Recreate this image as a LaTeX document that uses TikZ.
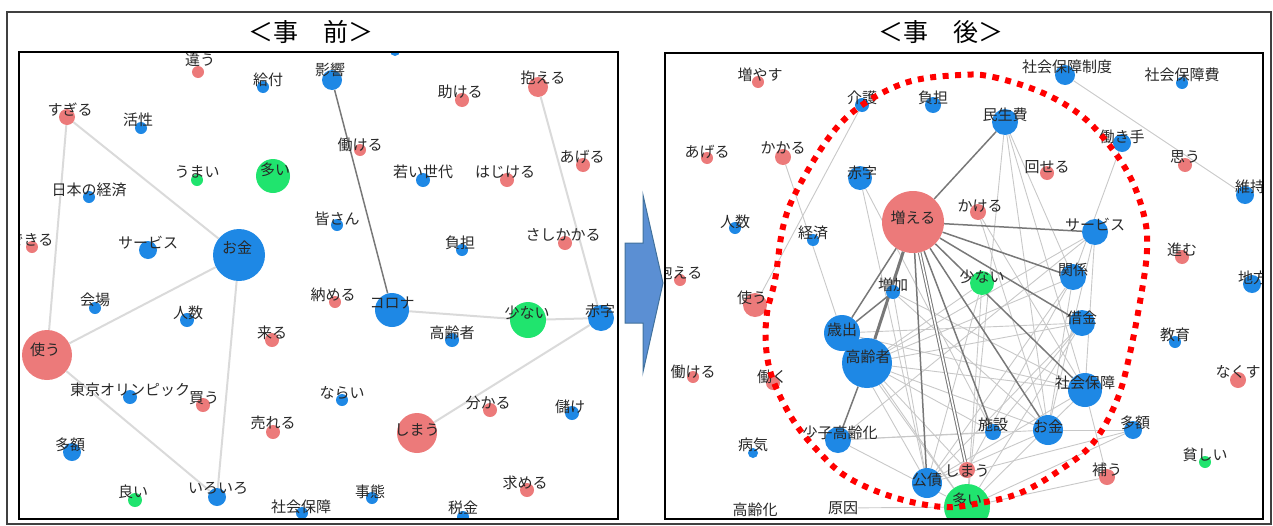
\documentclass[tikz,border=0pt]{standalone}
\usepackage{fontspec}
\newfontfamily\jp{Noto Sans CJK JP}
\usetikzlibrary{backgrounds}
\definecolor{cR}{RGB}{236,122,122}
\definecolor{cB}{RGB}{30,136,229}
\definecolor{cG}{RGB}{32,228,110}
\definecolor{cLE}{RGB}{218,218,218}
\definecolor{cME}{RGB}{200,200,200}
\definecolor{cDE}{RGB}{120,120,120}
\definecolor{cTx}{RGB}{40,40,40}
\definecolor{arrF}{RGB}{91,143,211}
\definecolor{arrD}{RGB}{65,113,156}
\tikzset{
 rn/.style={circle,fill=cR,inner sep=0pt,minimum size=#1pt},
 bn/.style={circle,fill=cB,inner sep=0pt,minimum size=#1pt},
 gn/.style={circle,fill=cG,inner sep=0pt,minimum size=#1pt},
 lb/.style={font=\jp\fontsize{15}{15}\selectfont, text=cTx, inner sep=0pt},
 ttl/.style={font=\jp\fontsize{25}{25}\selectfont, inner sep=0pt},
 ledge/.style={draw=cLE,line width=2pt},
 medge/.style={draw=cME,line width=0.9pt},
 dedge/.style={draw=cDE,line width=1.5pt},
 frm/.style={draw=black,line width=2pt},
 dotring/.style={draw=red,line width=6pt,dash pattern=on 6pt off 6.5pt},
}
\begin{document}
\begin{tikzpicture}[x=1pt,y=-1pt]
\useasboundingbox (0,0) rectangle (1273,525);
\draw[line width=1.5pt, draw=black!75] (7,12) rectangle (1271,524);
\node[ttl] (t1) at (311,32) {＜事　前＞};
\node[ttl] (t2) at (941,32) {＜事　後＞};

% ---------------- left panel ----------------
\begin{scope}
\clip (19,52) rectangle (618,519);
\node[rn=12] (L-chigau) at (198,72) {};
\node[bn=12] (L-kyufu) at (263,87) {};
\node[bn=20] (L-eikyo) at (332,80) {};
\node[bn=10] (L-top) at (395,51) {};
\node[rn=16] (L-sugiru) at (67,117) {};
\node[bn=12] (L-kassei) at (141,128) {};
\node[gn=12] (L-umai) at (197,180) {};
\node[gn=34] (L-ooi) at (273,176) {};
\node[bn=12] (L-nihon) at (89,197) {};
\node[rn=12] (L-dekiru) at (32,247) {};
\node[bn=18] (L-service) at (148,250) {};
\node[bn=52] (L-okane) at (239,255) {};
\node[bn=12] (L-minasan) at (337,225) {};
\node[rn=12] (L-hatarakeru) at (360,150) {};
\node[rn=14] (L-tasukeru) at (462,100) {};
\node[rn=20] (L-kakaeru) at (538,87) {};
\node[bn=14] (L-wakai) at (423,180) {};
\node[rn=14] (L-hajikeru) at (507,180) {};
\node[rn=14] (L-ageru) at (583,165) {};
\node[bn=12] (L-futan) at (462,250) {};
\node[rn=14] (L-sashikakaru) at (565,243) {};
\node[rn=12] (L-osameru) at (335,302) {};
\node[bn=34] (L-corona) at (392,310) {};
\node[gn=36] (L-sukunai) at (528,320) {};
\node[bn=26] (L-akaji) at (601,318) {};
\node[bn=14] (L-koreisha) at (452,340) {};
\node[bn=12] (L-narai) at (342,400) {};
\node[rn=14] (L-wakaru) at (490,410) {};
\node[bn=14] (L-mouke) at (572,413) {};
\node[rn=40] (L-shimau) at (417,433) {};
\node[rn=14] (L-motomeru) at (527,490) {};
\node[bn=12] (L-jitai) at (372,498) {};
\node[bn=12] (L-zeikin) at (463,517) {};
\node[bn=12] (L-shakai) at (302,513) {};
\node[bn=12] (L-kaijo) at (95,308) {};
\node[bn=14] (L-ninzu) at (187,320) {};
\node[rn=14] (L-kuru) at (272,340) {};
\node[rn=50] (L-tsukau) at (47,355) {};
\node[bn=14] (L-olympic) at (130,397) {};
\node[rn=14] (L-kau) at (203,405) {};
\node[rn=14] (L-ureru) at (273,432) {};
\node[bn=18] (L-tagaku) at (72,452) {};
\node[gn=14] (L-yoi) at (135,500) {};
\node[bn=18] (L-iroiro) at (217,497) {};
\begin{pgfonlayer}{background}
\draw[ledge] (L-sugiru) -- (L-okane);
\draw[ledge] (L-sugiru) -- (L-tsukau);
\draw[ledge] (L-tsukau) -- (L-okane);
\draw[ledge] (L-okane) -- (L-iroiro);
\draw[ledge] (L-tsukau) -- (L-iroiro);
\draw[ledge] (L-kakaeru) -- (L-akaji);
\draw[ledge] (L-corona) -- (L-sukunai);
\draw[ledge] (L-sukunai) -- (L-akaji);
\draw[ledge] (L-akaji) -- (L-shimau);
\draw[dedge] (L-eikyo) -- (L-corona);
\end{pgfonlayer}
\node[lb] (L-chigau-t) at (200,60) {違う};
\node[lb] (L-kyufu-t) at (268,80) {給付};
\node[lb] (L-eikyo-t) at (330,70) {影響};
\node[lb] (L-sugiru-t) at (70,110) {すぎる};
\node[lb] (L-kassei-t) at (138,120) {活性};
\node[lb] (L-umai-t) at (197,172) {うまい};
\node[lb] (L-ooi-t) at (275,170) {多い};
\node[lb] (L-nihon-t) at (89,190) {日本の経済};
\node[lb] (L-dekiru-t) at (31,240) {できる};
\node[lb] (L-service-t) at (148,243) {サービス};
\node[lb] (L-okane-t) at (237,248) {お金};
\node[lb] (L-minasan-t) at (337,219) {皆さん};
\node[lb] (L-hatarakeru-t) at (360,145) {働ける};
\node[lb] (L-tasukeru-t) at (460,92) {助ける};
\node[lb] (L-kakaeru-t) at (543,78) {抱える};
\node[lb] (L-wakai-t) at (423,172) {若い世代};
\node[lb] (L-hajikeru-t) at (505,172) {はじける};
\node[lb] (L-ageru-t) at (582,157) {あげる};
\node[lb] (L-futan-t) at (460,243) {負担};
\node[lb] (L-sashikakaru-t) at (563,235) {さしかかる};
\node[lb] (L-osameru-t) at (333,295) {納める};
\node[lb] (L-corona-t) at (392,303) {コロナ};
\node[lb] (L-sukunai-t) at (527,313) {少ない};
\node[lb] (L-akaji-t) at (600,311) {赤字};
\node[lb] (L-koreisha-t) at (452,333) {高齢者};
\node[lb] (L-narai-t) at (342,393) {ならい};
\node[lb] (L-wakaru-t) at (488,403) {分かる};
\node[lb] (L-mouke-t) at (570,407) {儲け};
\node[lb] (L-shimau-t) at (417,430) {しまう};
\node[lb] (L-motomeru-t) at (525,483) {求める};
\node[lb] (L-jitai-t) at (370,492) {事態};
\node[lb] (L-zeikin-t) at (463,508) {税金};
\node[lb] (L-shakai-t) at (301,507) {社会保障};
\node[lb] (L-kaijo-t) at (95,300) {会場};
\node[lb] (L-ninzu-t) at (188,313) {人数};
\node[lb] (L-kuru-t) at (272,333) {来る};
\node[lb] (L-tsukau-t) at (45,350) {使う};
\node[lb] (L-olympic-t) at (130,390) {東京オリンピック};
\node[lb] (L-kau-t) at (204,398) {買う};
\node[lb] (L-ureru-t) at (273,423) {売れる};
\node[lb] (L-tagaku-t) at (70,445) {多額};
\node[lb] (L-yoi-t) at (133,492) {良い};
\node[lb] (L-iroiro-t) at (218,488) {いろいろ};
\end{scope}
\draw[frm] (19,52) rectangle (618,519);

% ---------------- arrow ----------------
\draw[fill=arrF, draw=arrD, line width=1pt] (625,243) -- (643,243) -- (643,195) -- (663,283) -- (643,372) -- (643,323) -- (625,323) -- cycle;

% ---------------- right panel ----------------
\begin{scope}
\clip (665,53) rectangle (1263,519);
\node[rn=12] (R-fuyasu) at (758,82) {};
\node[bn=14] (R-kaigo) at (862,105) {};
\node[bn=16] (R-futan) at (933,105) {};
\node[rn=12] (R-ageru) at (707,158) {};
\node[rn=16] (R-kakaru) at (783,157) {};
\node[bn=24] (R-akaji) at (860,178) {};
\node[rn=62] (R-fueru) at (913,222) {};
\node[bn=12] (R-ninzu) at (735,228) {};
\node[bn=12] (R-keizai) at (813,240) {};
\node[rn=12] (R-kakaeru) at (680,280) {};
\node[bn=20] (R-seido) at (1065,75) {};
\node[bn=12] (R-shakaihi) at (1182,83) {};
\node[bn=26] (R-minseihi) at (1005,122) {};
\node[bn=18] (R-hatarakite) at (1122,143) {};
\node[rn=14] (R-mawaseru) at (1047,173) {};
\node[rn=14] (R-omou) at (1185,165) {};
\node[bn=18] (R-iji) at (1245,195) {};
\node[rn=16] (R-kakeru) at (978,212) {};
\node[bn=26] (R-service) at (1095,232) {};
\node[rn=14] (R-susumu) at (1182,257) {};
\node[bn=18] (R-chiho) at (1252,284) {};
\node[bn=26] (R-kankei) at (1073,277) {};
\node[gn=24] (R-sukunai) at (982,283) {};
\node[bn=14] (R-zouka) at (893,292) {};
\node[rn=24] (R-tsukau) at (755,305) {};
\node[bn=36] (R-saishutsu) at (842,333) {};
\node[bn=50] (R-koreisha) at (867,363) {};
\node[bn=26] (R-shakkin) at (1082,323) {};
\node[bn=12] (R-kyoiku) at (1175,342) {};
\node[rn=16] (R-nakusu) at (1238,380) {};
\node[rn=12] (R-hatarakeru) at (693,377) {};
\node[rn=14] (R-hataraku) at (773,383) {};
\node[bn=34] (R-shakai) at (1085,390) {};
\node[bn=26] (R-shoshi) at (838,440) {};
\node[bn=16] (R-shisetsu) at (993,432) {};
\node[bn=30] (R-okane) at (1048,430) {};
\node[bn=18] (R-tagaku) at (1133,430) {};
\node[bn=10] (R-byoki) at (753,453) {};
\node[gn=12] (R-mazushii) at (1205,462) {};
\node[rn=16] (R-oginau) at (1107,477) {};
\node[rn=16] (R-shimau) at (967,470) {};
\node[bn=30] (R-kosai) at (927,483) {};
\node[gn=46] (R-ooi) at (967,507) {};
\node[lb] (R-koreika-t) at (755,510) {高齢化};
\node[lb] (R-genin-t) at (843,508) {原因};
\begin{pgfonlayer}{background}
\foreach \a/\b in {kaigo/tsukau, kakaru/saishutsu, seido/iji, minseihi/okane, minseihi/shakai,
  minseihi/kankei, service/koreisha, service/shakai, service/okane, kankei/koreisha, kankei/shimau,
  kankei/kosai, shakkin/koreisha, shakkin/shisetsu, shakkin/ooi, shakai/koreisha, shakai/kosai,
  shakai/oginau, shakai/ooi, okane/koreisha, okane/tagaku, okane/kosai, shisetsu/koreisha,
  shisetsu/shoshi, sukunai/koreisha, sukunai/kosai, sukunai/ooi, ooi/koreisha, ooi/oginau,
  ooi/tagaku, saishutsu/shakkin, saishutsu/shakai, saishutsu/kosai, shoshi/okane, shoshi/ooi,
  zouka/shakai, zouka/okane, akaji/shisetsu, akaji/kosai, kakeru/okane, hatarakite/kankei,
  zouka/kosai, saishutsu/ooi, koreisha/shimau, kankei/okane, shakkin/kosai, tagaku/kosai,
  service/shoshi, minseihi/ooi, kakeru/shakai}
  {\draw[medge] (R-\a) -- (R-\b);}
\draw[medge] (R-genin-t) -- (R-ooi);
\foreach \b in {minseihi, service, kankei, shakkin, shakai, okane, shisetsu, kosai, saishutsu}
  {\draw[dedge] (R-fueru) -- (R-\b);}
\draw[draw=cDE, line width=1pt, double=white, double distance=1.6pt] (R-fueru) -- (R-shimau);
\draw[draw=cDE, line width=3pt] (R-fueru) -- (R-koreisha);
\draw[dedge] (R-koreisha) -- (R-shoshi);
\draw[dedge] (R-saishutsu) -- (R-zouka);
\end{pgfonlayer}
\node[lb] (R-fuyasu-t) at (760,75) {増やす};
\node[lb] (R-kaigo-t) at (862,98) {介護};
\node[lb] (R-futan-t) at (933,98) {負担};
\node[lb] (R-ageru-t) at (707,152) {あげる};
\node[lb] (R-kakaru-t) at (783,148) {かかる};
\node[lb] (R-akaji-t) at (862,173) {赤字};
\node[lb] (R-fueru-t) at (913,218) {増える};
\node[lb] (R-ninzu-t) at (735,222) {人数};
\node[lb] (R-keizai-t) at (813,233) {経済};
\node[lb] (R-kakaeru-t) at (680,273) {抱える};
\node[lb] (R-seido-t) at (1067,67) {社会保障制度};
\node[lb] (R-shakaihi-t) at (1182,75) {社会保障費};
\node[lb] (R-minseihi-t) at (1005,115) {民生費};
\node[lb] (R-hatarakite-t) at (1122,137) {働き手};
\node[lb] (R-mawaseru-t) at (1047,167) {回せる};
\node[lb] (R-omou-t) at (1185,157) {思う};
\node[lb] (R-iji-t) at (1250,187) {維持};
\node[lb] (R-kakeru-t) at (980,206) {かける};
\node[lb] (R-service-t) at (1095,225) {サービス};
\node[lb] (R-susumu-t) at (1182,250) {進む};
\node[lb] (R-chiho-t) at (1253,278) {地方};
\node[lb] (R-kankei-t) at (1073,270) {関係};
\node[lb] (R-sukunai-t) at (982,277) {少ない};
\node[lb] (R-zouka-t) at (893,285) {増加};
\node[lb] (R-tsukau-t) at (752,298) {使う};
\node[lb] (R-saishutsu-t) at (842,330) {歳出};
\node[lb] (R-koreisha-t) at (868,357) {高齢者};
\node[lb] (R-shakkin-t) at (1082,318) {借金};
\node[lb] (R-kyoiku-t) at (1175,335) {教育};
\node[lb] (R-nakusu-t) at (1238,372) {なくす};
\node[lb] (R-hatarakeru-t) at (693,372) {働ける};
\node[lb] (R-hataraku-t) at (772,377) {働く};
\node[lb] (R-shakai-t) at (1085,383) {社会保障};
\node[lb] (R-shoshi-t) at (840,433) {少子高齢化};
\node[lb] (R-shisetsu-t) at (993,425) {施設};
\node[lb] (R-okane-t) at (1048,427) {お金};
\node[lb] (R-tagaku-t) at (1135,423) {多額};
\node[lb] (R-byoki-t) at (753,445) {病気};
\node[lb] (R-mazushii-t) at (1205,455) {貧しい};
\node[lb] (R-oginau-t) at (1107,470) {補う};
\node[lb] (R-shimau-t) at (967,471) {しまう};
\node[lb] (R-kosai-t) at (927,480) {公債};
\node[lb] (R-ooi-t) at (967,500) {多い};
\draw[dotring] plot[smooth cycle, tension=0.6] coordinates {(960,75) (993,77) (1043,93) (1083,117) (1113,150) (1133,183) (1145,220) (1147,250) (1142,290) (1130,353) (1117,400) (1093,443) (1060,470) (1020,493) (980,503) (943,507) (893,497) (847,477) (817,450) (793,420) (773,380) (766,347) (767,313) (775,280) (783,227) (797,190) (830,136) (862,105) (908,82)};
\end{scope}
\draw[frm] (665,53) rectangle (1263,519);
\end{tikzpicture}
\end{document}
